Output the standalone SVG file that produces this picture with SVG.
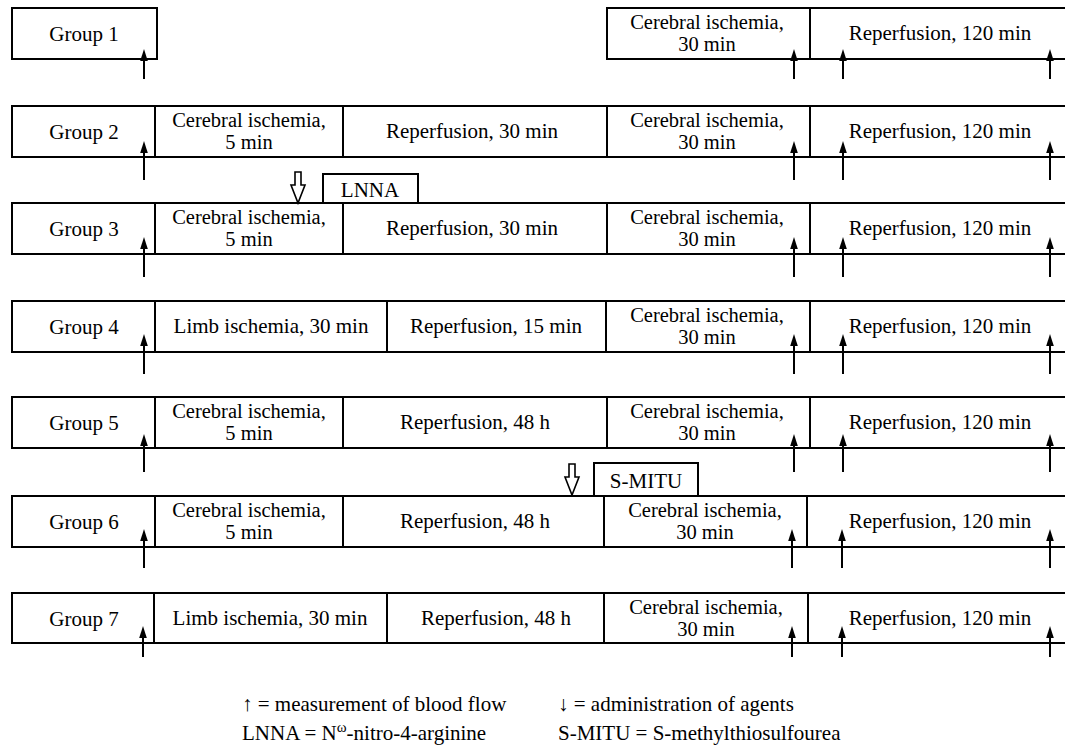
<svg xmlns="http://www.w3.org/2000/svg" width="1065" height="748" viewBox="0 0 1065 748">
<style>
.b{fill:#fff;stroke:#000;stroke-width:2}
.d{stroke:#000;stroke-width:2;fill:none}
.s{stroke:#000;stroke-width:2}
.h{fill:#fff;stroke:#000;stroke-width:1.6}
</style>
<defs>
<path id="ah" d="M0,0 L-3.8,12 L3.8,12 Z" fill="#000"/>
<path id="ha" d="M-3,0 h6 v13 h4 l-7,18 l-7,-18 h4 z" class="h"/>
</defs>
<rect width="1065" height="748" fill="#fff"/>

<g id="row1">
<rect class="b" x="12" y="8" width="145" height="51"/>
<rect class="b" x="607" y="8" width="460" height="51"/>
<line class="d" x1="810" y1="8" x2="810" y2="59"/>
<text font-family="Liberation Serif" font-size="21" text-anchor="middle" x="84" y="41">Group 1</text>
<text font-family="Liberation Serif" font-size="20.5" text-anchor="middle" x="707" y="28.5">Cerebral ischemia,</text>
<text font-family="Liberation Serif" font-size="20.5" text-anchor="middle" x="707" y="51.3">30 min</text>
<text font-family="Liberation Serif" font-size="21" text-anchor="middle" x="940" y="40">Reperfusion, 120 min</text>
</g>

<g id="row2">
<rect class="b" x="12" y="106" width="1055" height="51"/>
<line class="d" x1="155" y1="106" x2="155" y2="157"/>
<line class="d" x1="343" y1="106" x2="343" y2="157"/>
<line class="d" x1="607" y1="106" x2="607" y2="157"/>
<line class="d" x1="810" y1="106" x2="810" y2="157"/>
<text font-family="Liberation Serif" font-size="21" text-anchor="middle" x="84" y="139">Group 2</text>
<text font-family="Liberation Serif" font-size="20.5" text-anchor="middle" x="249" y="126.5">Cerebral ischemia,</text>
<text font-family="Liberation Serif" font-size="20.5" text-anchor="middle" x="249" y="149.3">5 min</text>
<text font-family="Liberation Serif" font-size="21" text-anchor="middle" x="472" y="138">Reperfusion, 30 min</text>
<text font-family="Liberation Serif" font-size="20.5" text-anchor="middle" x="707" y="126.5">Cerebral ischemia,</text>
<text font-family="Liberation Serif" font-size="20.5" text-anchor="middle" x="707" y="149.3">30 min</text>
<text font-family="Liberation Serif" font-size="21" text-anchor="middle" x="940" y="138">Reperfusion, 120 min</text>
</g>

<g id="lnna">
<rect class="b" x="323" y="174" width="95" height="29"/>
<text font-family="Liberation Serif" font-size="21" text-anchor="middle" x="370" y="197">LNNA</text>
</g>

<g id="row3">
<rect class="b" x="12" y="203" width="1055" height="51"/>
<line class="d" x1="155" y1="203" x2="155" y2="254"/>
<line class="d" x1="343" y1="203" x2="343" y2="254"/>
<line class="d" x1="607" y1="203" x2="607" y2="254"/>
<line class="d" x1="810" y1="203" x2="810" y2="254"/>
<text font-family="Liberation Serif" font-size="21" text-anchor="middle" x="84" y="236">Group 3</text>
<text font-family="Liberation Serif" font-size="20.5" text-anchor="middle" x="249" y="223.5">Cerebral ischemia,</text>
<text font-family="Liberation Serif" font-size="20.5" text-anchor="middle" x="249" y="246.3">5 min</text>
<text font-family="Liberation Serif" font-size="21" text-anchor="middle" x="472" y="235">Reperfusion, 30 min</text>
<text font-family="Liberation Serif" font-size="20.5" text-anchor="middle" x="707" y="223.5">Cerebral ischemia,</text>
<text font-family="Liberation Serif" font-size="20.5" text-anchor="middle" x="707" y="246.3">30 min</text>
<text font-family="Liberation Serif" font-size="21" text-anchor="middle" x="940" y="235">Reperfusion, 120 min</text>
</g>

<g id="row4">
<rect class="b" x="12" y="301" width="1055" height="51"/>
<line class="d" x1="155" y1="301" x2="155" y2="352"/>
<line class="d" x1="387" y1="301" x2="387" y2="352"/>
<line class="d" x1="606" y1="301" x2="606" y2="352"/>
<line class="d" x1="810" y1="301" x2="810" y2="352"/>
<text font-family="Liberation Serif" font-size="21" text-anchor="middle" x="84" y="334">Group 4</text>
<text font-family="Liberation Serif" font-size="21" text-anchor="middle" x="271" y="333">Limb ischemia, 30 min</text>
<text font-family="Liberation Serif" font-size="21" text-anchor="middle" x="496" y="333">Reperfusion, 15 min</text>
<text font-family="Liberation Serif" font-size="20.5" text-anchor="middle" x="707" y="321.5">Cerebral ischemia,</text>
<text font-family="Liberation Serif" font-size="20.5" text-anchor="middle" x="707" y="344.3">30 min</text>
<text font-family="Liberation Serif" font-size="21" text-anchor="middle" x="940" y="333">Reperfusion, 120 min</text>
</g>

<g id="row5">
<rect class="b" x="12" y="397" width="1055" height="51"/>
<line class="d" x1="155" y1="397" x2="155" y2="448"/>
<line class="d" x1="343" y1="397" x2="343" y2="448"/>
<line class="d" x1="607" y1="397" x2="607" y2="448"/>
<line class="d" x1="810" y1="397" x2="810" y2="448"/>
<text font-family="Liberation Serif" font-size="21" text-anchor="middle" x="84" y="430">Group 5</text>
<text font-family="Liberation Serif" font-size="20.5" text-anchor="middle" x="249" y="417.5">Cerebral ischemia,</text>
<text font-family="Liberation Serif" font-size="20.5" text-anchor="middle" x="249" y="440.3">5 min</text>
<text font-family="Liberation Serif" font-size="21" text-anchor="middle" x="475" y="429">Reperfusion, 48 h</text>
<text font-family="Liberation Serif" font-size="20.5" text-anchor="middle" x="707" y="417.5">Cerebral ischemia,</text>
<text font-family="Liberation Serif" font-size="20.5" text-anchor="middle" x="707" y="440.3">30 min</text>
<text font-family="Liberation Serif" font-size="21" text-anchor="middle" x="940" y="429">Reperfusion, 120 min</text>
</g>

<g id="smitu">
<rect class="b" x="594" y="463" width="104" height="33"/>
<text font-family="Liberation Serif" font-size="21" text-anchor="middle" x="646" y="488">S-MITU</text>
</g>

<g id="row6">
<rect class="b" x="12" y="496" width="1055" height="51"/>
<line class="d" x1="155" y1="496" x2="155" y2="547"/>
<line class="d" x1="343" y1="496" x2="343" y2="547"/>
<line class="d" x1="604" y1="496" x2="604" y2="547"/>
<line class="d" x1="807" y1="496" x2="807" y2="547"/>
<text font-family="Liberation Serif" font-size="21" text-anchor="middle" x="84" y="529">Group 6</text>
<text font-family="Liberation Serif" font-size="20.5" text-anchor="middle" x="249" y="516.5">Cerebral ischemia,</text>
<text font-family="Liberation Serif" font-size="20.5" text-anchor="middle" x="249" y="539.3">5 min</text>
<text font-family="Liberation Serif" font-size="21" text-anchor="middle" x="475" y="528">Reperfusion, 48 h</text>
<text font-family="Liberation Serif" font-size="20.5" text-anchor="middle" x="705" y="516.5">Cerebral ischemia,</text>
<text font-family="Liberation Serif" font-size="20.5" text-anchor="middle" x="705" y="539.3">30 min</text>
<text font-family="Liberation Serif" font-size="21" text-anchor="middle" x="940" y="528">Reperfusion, 120 min</text>
</g>

<g id="row7">
<rect class="b" x="12" y="593" width="1055" height="50"/>
<line class="d" x1="154" y1="593" x2="154" y2="643"/>
<line class="d" x1="387" y1="593" x2="387" y2="643"/>
<line class="d" x1="604" y1="593" x2="604" y2="643"/>
<line class="d" x1="808" y1="593" x2="808" y2="643"/>
<text font-family="Liberation Serif" font-size="21" text-anchor="middle" x="84" y="626">Group 7</text>
<text font-family="Liberation Serif" font-size="21" text-anchor="middle" x="270" y="625">Limb ischemia, 30 min</text>
<text font-family="Liberation Serif" font-size="21" text-anchor="middle" x="496" y="625">Reperfusion, 48 h</text>
<text font-family="Liberation Serif" font-size="20.5" text-anchor="middle" x="706" y="613.5">Cerebral ischemia,</text>
<text font-family="Liberation Serif" font-size="20.5" text-anchor="middle" x="706" y="636.3">30 min</text>
<text font-family="Liberation Serif" font-size="21" text-anchor="middle" x="940" y="625">Reperfusion, 120 min</text>
</g>

<g id="connectors">
<line class="s" x1="144" y1="60" x2="144" y2="79"/><use href="#ah" x="144" y="49"/>
<line class="s" x1="794" y1="60" x2="794" y2="79"/><use href="#ah" x="794" y="49"/>
<line class="s" x1="843" y1="60" x2="843" y2="79"/><use href="#ah" x="843" y="49"/>
<line class="s" x1="1050" y1="60" x2="1050" y2="79"/><use href="#ah" x="1050" y="49"/>

<line class="s" x1="144" y1="152" x2="144" y2="180"/><use href="#ah" x="144" y="141"/>
<line class="s" x1="794" y1="152" x2="794" y2="180"/><use href="#ah" x="794" y="141"/>
<line class="s" x1="843" y1="152" x2="843" y2="180"/><use href="#ah" x="843" y="141"/>
<line class="s" x1="1050" y1="152" x2="1050" y2="180"/><use href="#ah" x="1050" y="141"/>

<line class="s" x1="144" y1="248" x2="144" y2="277"/><use href="#ah" x="144" y="237"/>
<line class="s" x1="794" y1="248" x2="794" y2="277"/><use href="#ah" x="794" y="237"/>
<line class="s" x1="843" y1="248" x2="843" y2="277"/><use href="#ah" x="843" y="237"/>
<line class="s" x1="1050" y1="248" x2="1050" y2="277"/><use href="#ah" x="1050" y="237"/>

<line class="s" x1="144" y1="345" x2="144" y2="374"/><use href="#ah" x="144" y="334"/>
<line class="s" x1="794" y1="345" x2="794" y2="374"/><use href="#ah" x="794" y="334"/>
<line class="s" x1="843" y1="345" x2="843" y2="374"/><use href="#ah" x="843" y="334"/>
<line class="s" x1="1050" y1="345" x2="1050" y2="374"/><use href="#ah" x="1050" y="334"/>

<line class="s" x1="144" y1="445" x2="144" y2="472"/><use href="#ah" x="144" y="434"/>
<line class="s" x1="794" y1="445" x2="794" y2="472"/><use href="#ah" x="794" y="434"/>
<line class="s" x1="843" y1="445" x2="843" y2="472"/><use href="#ah" x="843" y="434"/>
<line class="s" x1="1050" y1="445" x2="1050" y2="472"/><use href="#ah" x="1050" y="434"/>

<line class="s" x1="144" y1="540" x2="144" y2="568"/><use href="#ah" x="144" y="529"/>
<line class="s" x1="792" y1="540" x2="792" y2="568"/><use href="#ah" x="792" y="529"/>
<line class="s" x1="842" y1="540" x2="842" y2="568"/><use href="#ah" x="842" y="529"/>
<line class="s" x1="1050" y1="540" x2="1050" y2="568"/><use href="#ah" x="1050" y="529"/>

<line class="s" x1="143" y1="637" x2="143" y2="657"/><use href="#ah" x="143" y="626"/>
<line class="s" x1="792" y1="637" x2="792" y2="657"/><use href="#ah" x="792" y="626"/>
<line class="s" x1="842" y1="637" x2="842" y2="657"/><use href="#ah" x="842" y="626"/>
<line class="s" x1="1050" y1="637" x2="1050" y2="657"/><use href="#ah" x="1050" y="626"/>

<use href="#ha" x="298" y="172"/>
<use href="#ha" x="572" y="464"/>
</g>

<g id="legend">
<text font-family="Liberation Serif" font-size="21" x="242" y="711">↑ = measurement of blood flow</text>
<text font-family="Liberation Serif" font-size="21" x="558" y="711">↓ = administration of agents</text>
<text font-family="Liberation Serif" font-size="21" x="242" y="740">LNNA = N<tspan font-size="15" dy="-8">ω</tspan><tspan dy="8">-nitro-4-arginine</tspan></text>
<text font-family="Liberation Serif" font-size="21" x="558" y="740">S-MITU = S-methylthiosulfourea</text>
</g>
</svg>
